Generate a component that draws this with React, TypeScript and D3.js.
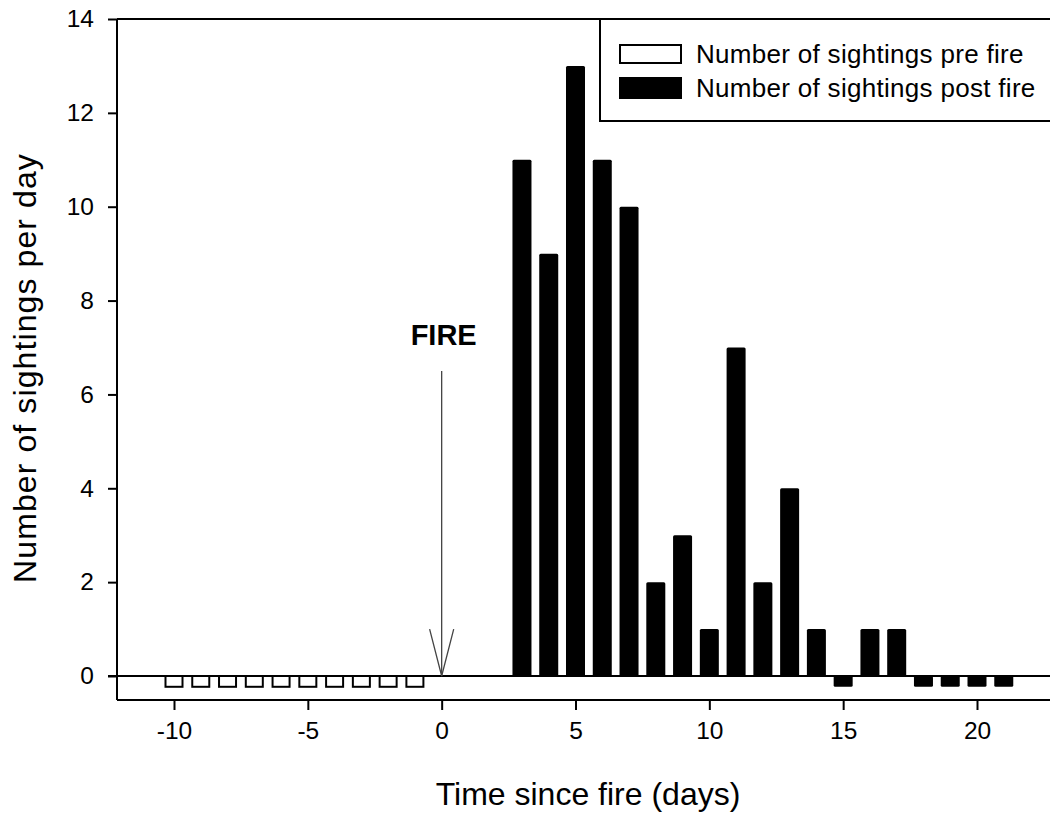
import React, { useEffect, useRef } from 'react';
import * as d3 from 'd3';

// days relative to the fire, and sightings per day
const preDays = [-10, -9, -8, -7, -6, -5, -4, -3, -2, -1];
const preCounts = [0, 0, 0, 0, 0, 0, 0, 0, 0, 0];
const postDays = [3, 4, 5, 6, 7, 8, 9, 10, 11, 12, 13, 14, 15, 16, 17, 18, 19, 20, 21];
const postCounts = [11, 9, 13, 11, 10, 2, 3, 1, 7, 2, 4, 1, 0, 1, 1, 0, 0, 0, 0];

const xTicks = [-10, -5, 0, 5, 10, 15, 20];
const yTicks = [0, 2, 4, 6, 8, 10, 12, 14];
const legendLabels = ['Number of sightings pre fire', 'Number of sightings post fire'];

const W = 1050;
const H = 814;
const FONT = '"Liberation Sans", Arial, sans-serif';

export default function App() {
  const ref = useRef<SVGSVGElement>(null);

  useEffect(() => {
    const svg = d3.select(ref.current);
    svg.selectAll('*').remove();

    const x = d3.scaleLinear().domain([-10, 20]).range([174, 977]);
    const y = d3.scaleLinear().domain([0, 14]).range([676, 19]);

    const left = 117;
    const right = W;
    const bottom = 700;
    const barW = x(0.71) - x(0);
    const stub = -0.23; // zero days are drawn as a small stub below the line
    const fmt = (d: any) => String(d);

    // frame lines
    svg.append('line')
      .attr('x1', left).attr('x2', left)
      .attr('y1', y(14)).attr('y2', bottom)
      .attr('stroke', '#000').attr('stroke-width', 2);
    svg.append('line')
      .attr('x1', left).attr('x2', right)
      .attr('y1', y(14)).attr('y2', y(14))
      .attr('stroke', '#000').attr('stroke-width', 2);
    svg.append('line')
      .attr('x1', left).attr('x2', right)
      .attr('y1', bottom).attr('y2', bottom)
      .attr('stroke', '#000').attr('stroke-width', 2);

    // y axis
    const gy = svg.append('g')
      .attr('transform', `translate(${left},0)`)
      .call(d3.axisLeft(y).tickValues(yTicks).tickSize(9).tickPadding(14).tickFormat(fmt));
    gy.select('.domain').remove();
    gy.selectAll('line').attr('stroke', '#000').attr('stroke-width', 2);
    gy.selectAll('text')
      .attr('font-family', FONT).attr('font-size', 24.5).attr('fill', '#000');

    // x axis
    const gx = svg.append('g')
      .attr('transform', `translate(0,${bottom})`)
      .call(d3.axisBottom(x).tickValues(xTicks).tickSize(10).tickPadding(12).tickFormat(fmt));
    gx.select('.domain').remove();
    gx.selectAll('line').attr('stroke', '#000').attr('stroke-width', 2);
    gx.selectAll('text')
      .attr('font-family', FONT).attr('font-size', 24.5).attr('fill', '#000');

    // pre fire bars (hollow)
    svg.append('g').selectAll('rect')
      .data(preDays.map((d, i) => ({ d, v: preCounts[i] })))
      .join('rect')
      .attr('x', (p) => x(p.d) - barW / 2 + 1)
      .attr('width', barW - 2)
      .attr('y', (p) => y(Math.max(p.v, 0)))
      .attr('height', (p) => (p.v === 0 ? y(stub) - y(0) : y(0) - y(p.v)))
      .attr('fill', '#fff')
      .attr('stroke', '#000')
      .attr('stroke-width', 2);

    // post fire bars (filled)
    svg.append('g').selectAll('rect')
      .data(postDays.map((d, i) => ({ d, v: postCounts[i] })))
      .join('rect')
      .attr('x', (p) => x(p.d) - barW / 2)
      .attr('width', barW)
      .attr('y', (p) => (p.v === 0 ? y(0) : y(p.v)))
      .attr('height', (p) => (p.v === 0 ? y(stub) - y(0) : y(0) - y(p.v)))
      .attr('rx', 1.5)
      .attr('fill', '#000');

    // zero line
    svg.append('line')
      .attr('x1', left - 9).attr('x2', right)
      .attr('y1', y(0)).attr('y2', y(0))
      .attr('stroke', '#000').attr('stroke-width', 2);

    // fire arrow
    const ax = x(0);
    svg.append('line')
      .attr('x1', ax).attr('x2', ax)
      .attr('y1', y(6.5)).attr('y2', y(0))
      .attr('stroke', '#444').attr('stroke-width', 1.3);
    svg.append('path')
      .attr('d', `M${x(-0.45)},${y(1)} L${ax},${y(0)} L${x(0.45)},${y(1)}`)
      .attr('fill', 'none')
      .attr('stroke', '#444').attr('stroke-width', 1.3);
    svg.append('text')
      .attr('x', ax + 2).attr('y', y(7.05))
      .attr('text-anchor', 'middle')
      .attr('font-family', FONT).attr('font-size', 29).attr('font-weight', 'bold')
      .text('FIRE');

    // axis titles
    svg.append('text')
      .attr('x', 588).attr('y', 805)
      .attr('text-anchor', 'middle')
      .attr('font-family', FONT).attr('font-size', 32)
      .text('Time since fire (days)');
    svg.append('text')
      .attr('transform', 'translate(36,368) rotate(-90)')
      .attr('text-anchor', 'middle')
      .attr('font-family', FONT).attr('font-size', 32)
      .attr('letter-spacing', 1.1)
      .text('Number of sightings per day');

    // legend
    const lg = svg.append('g').attr('transform', 'translate(600,19)');
    lg.append('rect')
      .attr('x', 0).attr('y', 0).attr('width', 470).attr('height', 102)
      .attr('fill', '#fff').attr('stroke', '#000').attr('stroke-width', 2);
    legendLabels.forEach((label, i) => {
      lg.append('rect')
        .attr('x', 20).attr('y', 26 + i * 33)
        .attr('width', 61).attr('height', i === 0 ? 18 : 20)
        .attr('fill', i === 0 ? '#fff' : '#000')
        .attr('stroke', '#000').attr('stroke-width', 2);
      lg.append('text')
        .attr('x', 96).attr('y', 44 + i * 34)
        .attr('font-family', FONT).attr('font-size', 26)
        .attr('letter-spacing', 0.3)
        .text(label);
    });
  }, []);

  return (
    <svg ref={ref} width={W} height={H}
      style={{ position: 'absolute', left: 0, top: 0, background: '#fff' }} />
  );
}
